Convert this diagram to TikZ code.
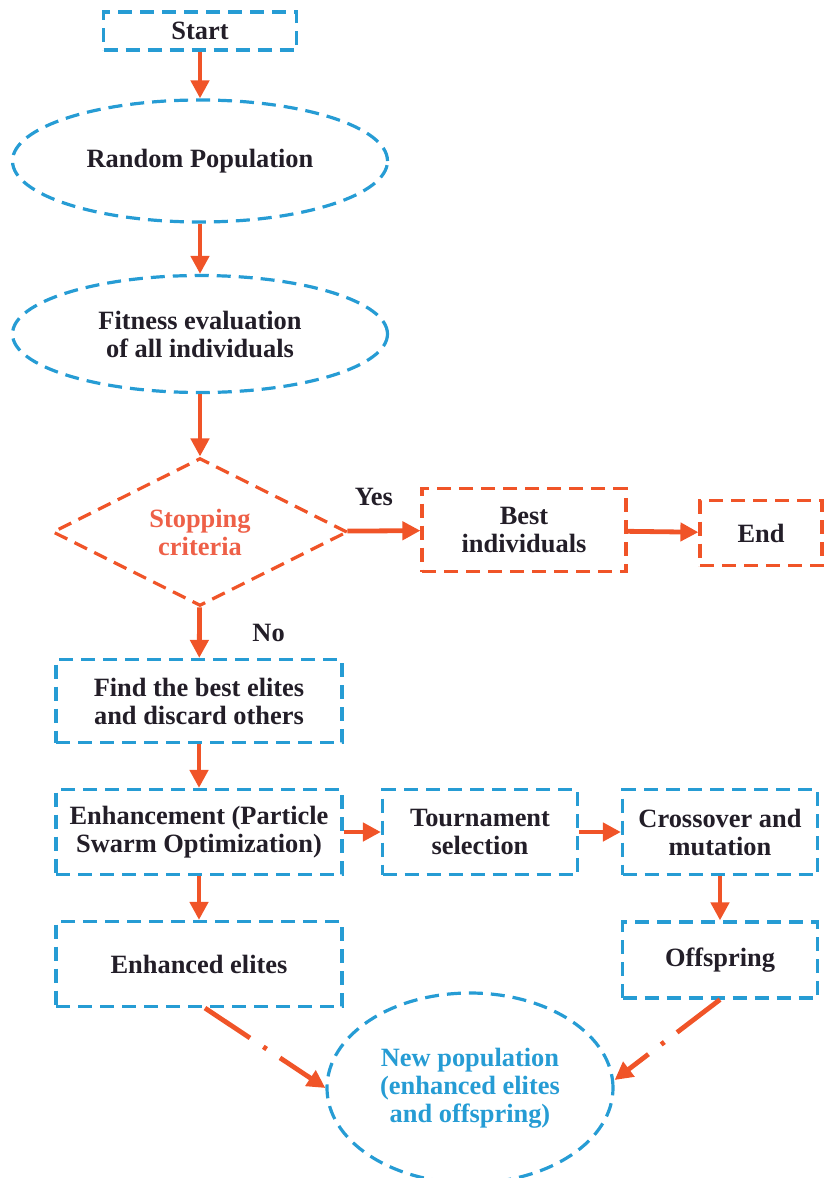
\documentclass[tikz,border=0pt]{standalone}
\usepackage{fontspec}
\setmainfont{Liberation Serif}
\usetikzlibrary{shapes.geometric,arrows.meta,calc}

\definecolor{flowblue}{RGB}{38,156,212}
\definecolor{floworange}{RGB}{240,84,40}
\definecolor{flowtext}{RGB}{35,30,40}
\definecolor{stoptext}{RGB}{238,96,72}

\tikzset{
  blockline/.style={line width=1.6pt, dash pattern=on 7pt off 4pt},
  bluebox/.style={draw=flowblue, blockline, rectangle, align=center, text=flowtext, inner sep=2pt},
  orangebox/.style={bluebox, draw=floworange},
  blueoval/.style={draw=flowblue, blockline, ellipse, align=center, text=flowtext, inner sep=0pt},
  flow/.style={draw=floworange, line width=2.4pt, -{Triangle[length=9pt,width=9pt]}},
  dashflow/.style={flow, dash pattern=on 27pt off 8pt on 2pt off 8pt}
}

\begin{document}
\begin{tikzpicture}[x=0.5pt, y=-0.5pt, font=\bfseries\fontsize{13.2}{14}\selectfont]
  \useasboundingbox (0,0) rectangle (824,1178);

  % main column
  \node (start) [bluebox, minimum width=96.5pt, minimum height=19pt] at (200,31) {Start};
  \node (randpop) [blueoval, minimum width=187.5pt, minimum height=61pt] at (200,161) {Random Population};
  \node (fitness) [blueoval, minimum width=187.5pt, minimum height=58.5pt] at (200,334) {Fitness evaluation\\of all individuals};
  \node (stopcrit) [diamond, draw=floworange, blockline, text=stoptext, align=center, inner sep=0pt,
                    minimum width=147.5pt, minimum height=73.5pt] at (200,532) {Stopping\\criteria};
  \node (best) [orangebox, minimum width=102pt, minimum height=41.5pt] at (524,530) {Best\\individuals};
  \node (finish) [orangebox, minimum width=61pt, minimum height=32.5pt] at (761,533) {End};
  \node (elites) [bluebox, minimum width=143pt, minimum height=41.5pt] at (199,701) {Find the best elites\\and discard others};
  \node (enhance) [bluebox, minimum width=143pt, minimum height=42.5pt] at (199,832) {Enhancement (Particle\\Swarm Optimization)};
  \node (tourn) [bluebox, minimum width=97.5pt, minimum height=42.5pt] at (480,832) {Tournament\\selection};
  \node (cross) [bluebox, minimum width=97.5pt, minimum height=42.5pt] at (720,832) {Crossover and\\mutation};
  \node (enhanced) [bluebox, minimum width=143pt, minimum height=42.5pt] at (199,964) {Enhanced elites};
  \node (offspring) [bluebox, minimum width=97.5pt, minimum height=38pt] at (720,960) {Offspring};
  \node (newpop) [blueoval, text=flowblue, minimum width=143pt, minimum height=95pt] at (470,1088) {New population\\(enhanced elites\\and offspring)};

  % connectors
  \draw[flow] (start) -- (randpop);
  \draw[flow] (randpop) -- (fitness);
  \draw[flow] (fitness) -- (stopcrit);
  \draw[flow] (stopcrit) -- node[above=8pt, xshift=-5pt, text=flowtext] {Yes} (best);
  \draw[flow] (best) -- (finish);
  \draw[flow] (stopcrit) -- node[right=22pt, text=flowtext] {No} (elites);
  \draw[flow] (elites) -- (enhance);
  \draw[flow] (enhance) -- (tourn);
  \draw[flow] (tourn) -- (cross);
  \draw[flow] (enhance) -- (enhanced);
  \draw[flow] (cross) -- (offspring);
  \draw[dashflow] ($(enhanced.south)+(6,0)$) -- (newpop.west);
  \draw[dashflow] (offspring.south) -- ($(newpop.east)+(0,-8)$);

\end{tikzpicture}
\end{document}
